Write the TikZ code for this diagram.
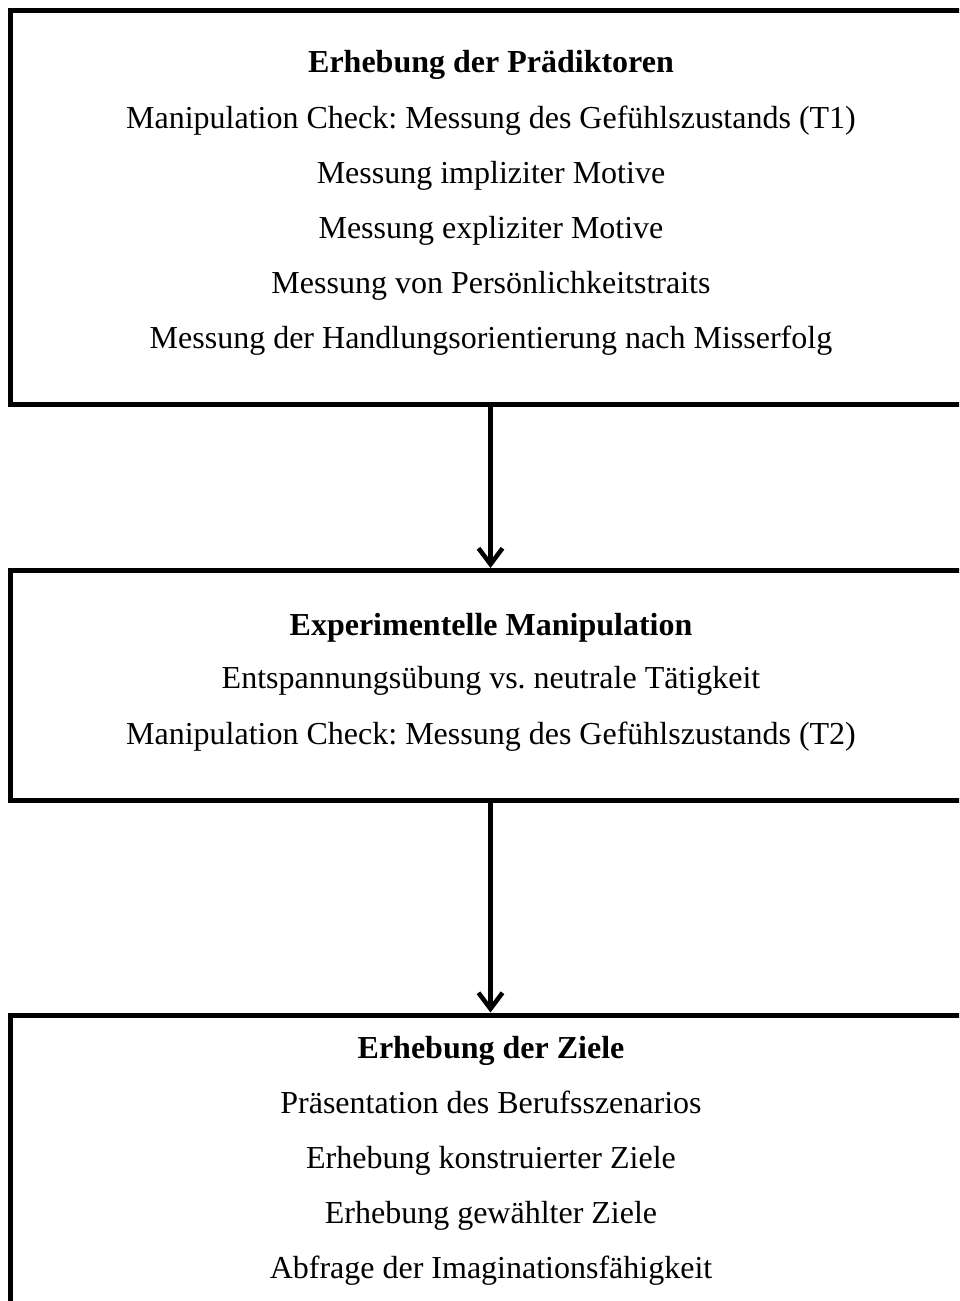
\documentclass[tikz,border=0pt]{standalone}
\usepackage{fontspec}
\setmainfont{Liberation Serif}
\usetikzlibrary{arrows.meta}
\frenchspacing
\begin{document}
\begin{tikzpicture}[x=1pt,y=-1pt,
  stage/.style={draw=black,line width=5pt,minimum width=960pt,inner sep=0pt},
  txt/.style={anchor=base,inner sep=0pt,font=\fontsize{32}{38}\selectfont},
  head/.style={txt,font=\fontsize{32}{38}\selectfont\bfseries},
  flow/.style={line width=4.5pt,-{Straight Barb[length=16pt,width=24pt,line width=4.5pt]}}]
\useasboundingbox (0,0) rectangle (959,1301);
\clip (0,0) rectangle (959,1301);

% stage boxes
\node[stage,minimum height=394pt] (b1) at (490.5,207.5) {};
\node[stage,minimum height=229.5pt] (b2) at (490.5,685.25) {};
\node[stage,minimum height=340pt] (b3) at (490.5,1185) {};

% first stage
\node[head] (t1) at (491,72) {Erhebung der Prädiktoren};
\node[txt] (l11) at (491,128) {Manipulation Check: Messung des Gefühlszustands (T1)};
\node[txt] (l12) at (491,183) {Messung impliziter Motive};
\node[txt] (l13) at (491,238) {Messung expliziter Motive};
\node[txt] (l14) at (491,293) {Messung von Persönlichkeitstraits};
\node[txt] (l15) at (491,348) {Messung der Handlungsorientierung nach Misserfolg};

% second stage
\node[head] (t2) at (491,635) {Experimentelle Manipulation};
\node[txt] (l21) at (491,688) {Entspannungsübung vs. neutrale Tätigkeit};
\node[txt] (l22) at (491,744) {Manipulation Check: Messung des Gefühlszustands (T2)};

% third stage
\node[head] (t3) at (491,1058) {Erhebung der Ziele};
\node[txt] (l31) at (491,1113) {Präsentation des Berufsszenarios};
\node[txt] (l32) at (491,1168) {Erhebung konstruierter Ziele};
\node[txt] (l33) at (491,1223) {Erhebung gewählter Ziele};
\node[txt] (l34) at (491,1278) {Abfrage der Imaginationsfähigkeit};

% connectors
\draw[flow] (b1.south -| 490.5,0) -- (b2.north -| 490.5,0);
\draw[flow] (b2.south -| 490.5,0) -- (b3.north -| 490.5,0);
\end{tikzpicture}
\end{document}
